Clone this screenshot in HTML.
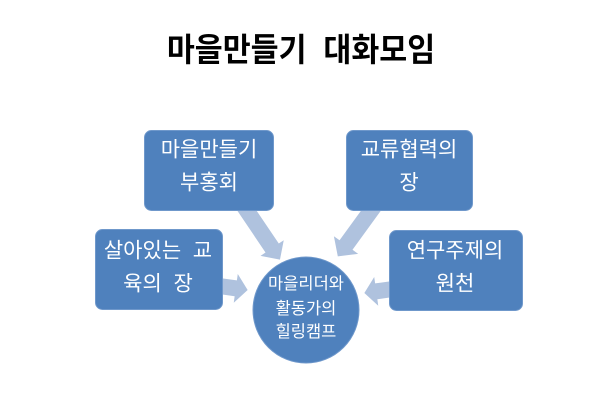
<!DOCTYPE html>
<html><head><meta charset="utf-8"><style>
html,body{margin:0;padding:0;background:#fff;}
svg{display:block;}
text{font-family:"Liberation Sans","Noto Sans CJK KR",sans-serif;}
</style></head><body>
<svg width="600" height="415" viewBox="0 0 600 415" xmlns="http://www.w3.org/2000/svg">
<rect width="600" height="415" fill="#fff"/>
<g transform="translate(301,50) scale(0.98,1.05)">
<text x="0" y="0" text-anchor="middle" dominant-baseline="central" font-size="31" font-weight="bold" fill="#000" xml:space="preserve">마을만들기  대화모임</text>
</g>
<g fill="#AFC2DE">
<polygon transform="translate(233,190) rotate(56)" points="0,-8 70,-8 70,-14 84,0 70,14 70,8 0,8"/>
<polygon transform="translate(386,190) rotate(126)" points="0,-8 68,-8 68,-15 82,0 68,15 68,8 0,8"/>
<polygon transform="translate(212,285) rotate(8)" points="0,-8 24,-8 24,-14.5 36,0 24,14.5 24,8 0,8"/>
<polygon transform="translate(400,288) rotate(172)" points="0,-8 24,-8 24,-14.5 36,0 24,14.5 24,8 0,8"/>
</g>
<g fill="#4F81BD" stroke="#6F98CB" stroke-width="1">
<rect x="144.5" y="130.5" width="129" height="80" rx="7"/>
<rect x="95.5" y="229.5" width="127" height="80" rx="7"/>
<rect x="346.5" y="130.5" width="126" height="80" rx="7"/>
<rect x="389.5" y="230.5" width="133" height="80" rx="7"/>
<circle cx="306" cy="310" r="53"/>
</g>
<g fill="#fff" font-size="21" text-anchor="middle" dominant-baseline="central">
<text x="209" y="150">마을만들기</text>
<text x="209" y="183">부홍회</text>
<text x="158" y="251" xml:space="preserve">살아있는  교</text>
<text x="158" y="284" xml:space="preserve">육의  장</text>
<text x="409" y="150">교류협력의</text>
<text x="409" y="183">장</text>
<text x="455" y="251">연구주제의</text>
<text x="455" y="284">원천</text>
</g>
<g fill="#fff" font-size="16.5" text-anchor="middle" dominant-baseline="central">
<text x="306" y="284">마을리더와</text>
<text x="306" y="309">활동가의</text>
<text x="306" y="332">힐링캠프</text>
</g>
</svg>
</body></html>
